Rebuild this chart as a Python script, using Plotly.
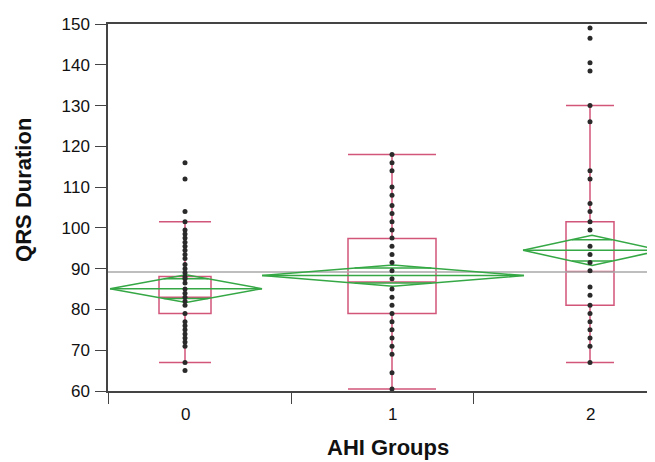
import plotly.graph_objects as go
import math

# ---- data ----
group_labels = ["0", "1", "2"]

qrs_group0 = [116, 112, 104, 101.5, 99.5, 98.5, 97.5, 96.5, 95.5, 94.5, 93.5, 92.5, 91, 90, 89,
              88, 87.5, 86.5, 85, 84, 83, 82, 81, 79, 77, 76, 75, 74, 73, 72, 71, 67, 65]
qrs_group1 = [118, 116, 114, 110, 108, 105.5, 103.5, 101.5, 99.5, 97.5, 95.5, 93.5, 91.5, 89.5,
              87.5, 85, 83, 81, 79, 77, 75, 73, 71, 69, 64.5, 60.5]
qrs_group2 = [149, 146.5, 140.5, 138.5, 130, 126, 114, 112, 106, 104, 101.5, 99.5, 95.5, 93.5,
              91.5, 89.5, 85.5, 83.5, 81, 79, 77, 75, 73, 71, 67]

box_q1 = [79, 79, 81]
box_median = [83, 86.7, 89.3]
box_q3 = [88.1, 97.4, 101.5]
box_lower = [67, 60.5, 67]
box_upper = [101.5, 118, 130]

group_means = [85.1, 88.3, 94.5]
group_ci_half = [3.4, 2.6, 3.7]

grand_mean = 89.2

y_ticks = [60, 70, 80, 90, 100, 110, 120, 130, 140, 150]

x_title = "AHI Groups"
y_title = "QRS Duration"

# ---- layout constants (positions / sizes) ----
# the page body adds an 8px offset, so margins are reduced by 8px
X_MIN, X_MAX = 108, 655
GROUP_CENTER = [185, 392, 590]
BOX_WIDTH = [52, 88, 48]
DIAMOND_SPAN = [(110, 262), (262, 524), (523, 661)]
DIVIDER_TICKS = [108, 291, 473]

BOX_COLOR = "#d2557a"
DIAMOND_COLOR = "#35a845"
DOT_COLOR = "#2a2a2a"
MEAN_COLOR = "#a8a8a8"
AXIS_COLOR = "#444444"
TEXT_COLOR = "#111111"
FONT = "Liberation Sans, Arial, sans-serif"

groups = [qrs_group0, qrs_group1, qrs_group2]

fig = go.Figure()

# grand mean line
fig.add_trace(go.Scatter(x=[X_MIN, X_MAX + 10], y=[grand_mean, grand_mean], mode="lines",
                         line=dict(color=MEAN_COLOR, width=1.5), hoverinfo="skip", showlegend=False))

# boxes
for i in range(3):
    fig.add_trace(go.Box(x=[GROUP_CENTER[i]], q1=[box_q1[i]], median=[box_median[i]],
                         q3=[box_q3[i]], lowerfence=[box_lower[i]], upperfence=[box_upper[i]],
                         width=BOX_WIDTH[i], whiskerwidth=1, boxpoints=False,
                         line=dict(color=BOX_COLOR, width=1.5), fillcolor="rgba(0,0,0,0)",
                         showlegend=False))

# mean diamonds with overlap marks
for i in range(3):
    l, r = DIAMOND_SPAN[i]
    c = (l + r) / 2
    m = group_means[i]
    h = group_ci_half[i]
    fig.add_trace(go.Scatter(x=[l, c, r, c, l], y=[m, m + h, m, m - h, m], mode="lines",
                             line=dict(color=DIAMOND_COLOR, width=1.5), hoverinfo="skip",
                             showlegend=False))
    fig.add_trace(go.Scatter(x=[l, r], y=[m, m], mode="lines",
                             line=dict(color=DIAMOND_COLOR, width=1.5), hoverinfo="skip",
                             showlegend=False))
    k = h / math.sqrt(2)
    half = (r - l) / 2 * (1 - k / h)
    for s in (1, -1):
        fig.add_trace(go.Scatter(x=[c - half, c + half], y=[m + s * k, m + s * k], mode="lines",
                                 line=dict(color=DIAMOND_COLOR, width=1.5), hoverinfo="skip",
                                 showlegend=False))

# data points
for i in range(3):
    fig.add_trace(go.Scatter(x=[GROUP_CENTER[i]] * len(groups[i]), y=groups[i], mode="markers",
                             marker=dict(color=DOT_COLOR, size=5), showlegend=False))

annotations = [dict(x=GROUP_CENTER[i], y=0, xref="x", yref="paper", text=group_labels[i],
                    showarrow=False, yanchor="top", yshift=-12,
                    font=dict(family=FONT, size=17, color=TEXT_COLOR))
               for i in range(3)]
annotations.append(dict(x=388, y=0, xref="x", yref="paper", text="<b>%s</b>" % x_title,
                        showarrow=False, yanchor="middle", yshift=-56,
                        font=dict(family=FONT, size=22, color=TEXT_COLOR)))
annotations.append(dict(x=0, y=0.548, xref="paper", yref="paper", xanchor="center",
                        yanchor="middle", xshift=-84,
                        text="<b>%s</b>" % y_title, textangle=-90, showarrow=False,
                        font=dict(family=FONT, size=22, color=TEXT_COLOR)))

fig.update_layout(
    width=655, height=462,
    margin=dict(l=100, r=8, t=16, b=79),
    paper_bgcolor="white", plot_bgcolor="white",
    boxmode="overlay",
    annotations=annotations,
    xaxis=dict(range=[X_MIN, X_MAX], tickvals=DIVIDER_TICKS, ticktext=["", "", ""],
               ticks="outside", ticklen=11, tickcolor=AXIS_COLOR, tickwidth=1.2,
               showline=True, linecolor=AXIS_COLOR, linewidth=1.5, mirror=True,
               showgrid=False, zeroline=False, automargin=False),
    yaxis=dict(range=[60, 150], tickvals=y_ticks, ticks="outside", ticklen=11,
               tickcolor=AXIS_COLOR, tickwidth=1.2, showline=True, linecolor=AXIS_COLOR,
               linewidth=1.5, showgrid=False, zeroline=False, automargin=False,
               ticklabelstandoff=2,
               tickfont=dict(family=FONT, size=17, color=TEXT_COLOR)),
)

fig.write_html("out.html")
